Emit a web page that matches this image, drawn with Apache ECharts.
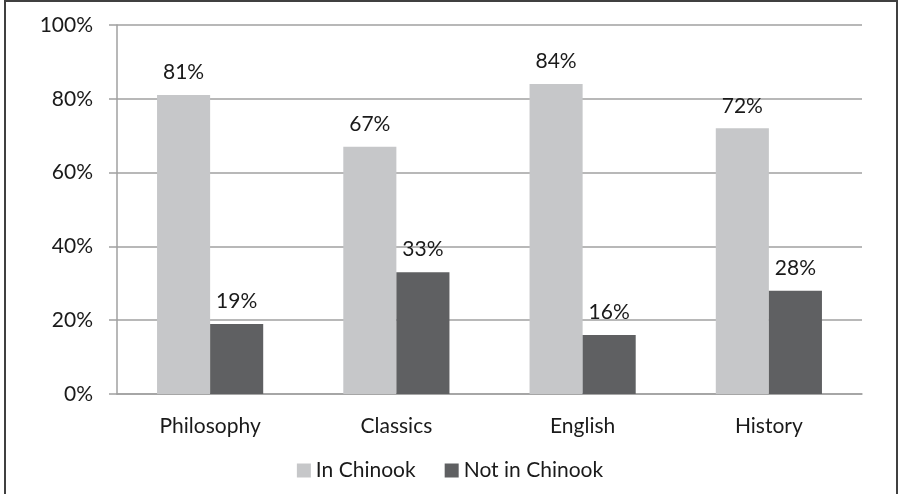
<!DOCTYPE html>
<html><head><meta charset="utf-8">
<script src="https://cdn.jsdelivr.net/npm/echarts@6/dist/echarts.min.js"></script>
<style>html,body{margin:0;padding:0;background:#fff}#c{width:900px;height:494px}</style>
</head><body><div id="c"></div>
<script>
const categories = ['Philosophy', 'Classics', 'English', 'History'];
const inChinook = [81, 67, 84, 72];
const notInChinook = [19, 33, 16, 28];
const seriesNames = ['In Chinook', 'Not in Chinook'];
const yTicks = [0, 20, 40, 60, 80, 100];

const FONT = 'Lato';
const FS = 21;
const chart = echarts.init(document.getElementById('c'), null, {renderer: 'canvas'});
const labelStyle = {show: true, position: 'top', distance: 12, formatter: '{c}%', color: '#1a1a1a', fontFamily: FONT, fontSize: FS};
chart.setOption({
  animation: false,
  graphic: [{type: 'rect', shape: {x: 5, y: 1, width: 892, height: 520}, style: {fill: 'none', stroke: '#404040', lineWidth: 2}, silent: true}],
  grid: {left: 117, right: 38, top: 25, bottom: 100, containLabel: false},
  legend: {
    bottom: 8, left: 'center', itemWidth: 14, itemHeight: 14, itemGap: 29,
    icon: 'rect',
    textStyle: {fontFamily: FONT, fontSize: FS, color: '#1a1a1a'},
    data: seriesNames
  },
  xAxis: {
    type: 'category', data: categories,
    axisLine: {lineStyle: {color: '#a0a0a0', width: 1.5}},
    axisTick: {show: false},
    axisLabel: {fontFamily: FONT, fontSize: FS, color: '#1a1a1a', margin: 22}
  },
  yAxis: {
    type: 'value', min: 0, max: 100, interval: 20,
    axisLine: {show: true, lineStyle: {color: '#a0a0a0', width: 1.5}},
    axisTick: {show: true, length: 8, lineStyle: {color: '#a0a0a0', width: 1.5}},
    splitLine: {lineStyle: {color: '#a0a0a0', width: 1.5}},
    axisLabel: {fontFamily: FONT, fontSize: FS, color: '#1a1a1a', margin: 24,
      formatter: v => yTicks.includes(v) ? v + '%' : ''}
  },
  series: [
    {name: seriesNames[0], type: 'bar', data: inChinook, barGap: '0%', barCategoryGap: '43%',
     itemStyle: {color: '#c6c7c9'}, label: labelStyle},
    {name: seriesNames[1], type: 'bar', data: notInChinook, barGap: '0%', barCategoryGap: '43%',
     itemStyle: {color: '#5f6062'}, label: labelStyle}
  ]
});
</script></body></html>
